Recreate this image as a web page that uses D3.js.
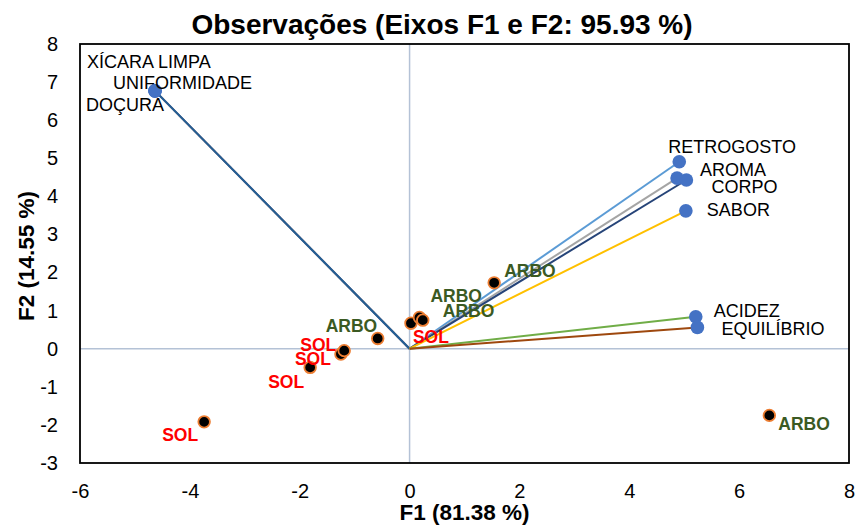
<!DOCTYPE html>
<html><head><meta charset="utf-8">
<script src="https://cdn.jsdelivr.net/npm/d3@7"></script>
<style>body{margin:0;background:#fff}svg{display:block;font-family:Arial,"Liberation Sans",sans-serif}</style>
</head><body><svg id="c" width="857" height="526"></svg>
<script>
// Variables (loadings)
const varNames = ["XÍCARA LIMPA","UNIFORMIDADE","DOÇURA","RETROGOSTO","AROMA","CORPO","SABOR","ACIDEZ","EQUILÍBRIO"];
const varF1 = [-4.635,-4.635,-4.635,4.91,4.87,5.04,5.03,5.21,5.24];
const varF2 = [6.77,6.77,6.77,4.91,4.48,4.43,3.62,0.84,0.56];
const varLineColors = ["#ed7d31","#4472c4","#255e91","#5b9bd5","#a5a5a5","#264478","#ffc000","#70ad47","#9e480e"];
const varLabelOffsets = [[-68,-23],[-42,-2],[-69,20],[-11,-9],[23,-2],[25,13],[21,5],[18,0],[24,8]];
// Observations
const obsLabels = ["SOL","SOL","SOL","SOL","ARBO","SOL","ARBO","ARBO","ARBO","ARBO"];
const obsF1 = [-3.74,-1.81,-1.25,-1.19,-0.58,0.025,0.18,0.24,1.54,6.55];
const obsF2 = [-1.92,-0.49,-0.14,-0.05,0.27,0.67,0.82,0.75,1.73,-1.75];
const obsLabelOffsets = [[-42,19],[-42,21],[-46,11],[-44,0],[-52,-6],[2,20],[11,-15],[20,-3],[10,-6],[9,15]];
const obsColors = {SOL:"#ff0000", ARBO:"#3b5a23"};
// Axes
const xTicks = [-6,-4,-2,0,2,4,6,8];
const yTicks = [-3,-2,-1,0,1,2,3,4,5,6,7,8];
const title = "Observações (Eixos F1 e F2: 95.93 %)";
const xTitle = "F1 (81.38 %)";
const yTitle = "F2 (14.55 %)";

const L=80,T=44,R=849,B=463;
const svg = d3.select("#c");
const x = d3.scaleLinear().domain([-6,8]).range([L,R]);
const y = d3.scaleLinear().domain([-3,8]).range([B,T]);
const fmt = d => String(d);

// zero axes
svg.append("line").attr("x1",x(0)).attr("x2",x(0)).attr("y1",T).attr("y2",B).attr("stroke","#b4c2d6").attr("stroke-width",1.5);
svg.append("line").attr("x1",L).attr("x2",R).attr("y1",y(0)).attr("y2",y(0)).attr("stroke","#b4c2d6").attr("stroke-width",1.5);

// axes ticks labels
const xa = svg.append("g").attr("transform",`translate(0,${B})`).call(d3.axisBottom(x).tickValues(xTicks).tickSize(0).tickPadding(21).tickFormat(fmt));
xa.select(".domain").remove();
xa.selectAll("text").attr("font-size",20).attr("fill","#000").attr("font-family","Arial, 'Liberation Sans', sans-serif");
const ya = svg.append("g").attr("transform",`translate(${L},0)`).call(d3.axisLeft(y).tickValues(yTicks).tickSize(0).tickPadding(22).tickFormat(fmt));
ya.select(".domain").remove();
ya.selectAll("text").attr("font-size",20).attr("fill","#000").attr("font-family","Arial, 'Liberation Sans', sans-serif");

// plot frame
svg.append("rect").attr("x",L).attr("y",T).attr("width",R-L).attr("height",B-T).attr("fill","none").attr("stroke","#000").attr("stroke-width",1.8);

// vector lines
varNames.forEach((n,i)=>{
  svg.append("line").attr("x1",x(0)).attr("y1",y(0)).attr("x2",x(varF1[i])).attr("y2",y(varF2[i]))
    .attr("stroke",varLineColors[i]).attr("stroke-width",2);
});
// variable points
svg.selectAll("circle.v").data(varNames).join("circle").attr("class","v")
  .attr("cx",(d,i)=>x(varF1[i])).attr("cy",(d,i)=>y(varF2[i])).attr("r",6.8).attr("fill","#4472c4");
svg.selectAll("text.v").data(varNames).join("text").attr("class","v")
  .attr("x",(d,i)=>x(varF1[i])+varLabelOffsets[i][0]).attr("y",(d,i)=>y(varF2[i])+varLabelOffsets[i][1])
  .attr("font-size",18).attr("fill","#000").text(d=>d);

// observation points
svg.selectAll("circle.o").data(obsLabels).join("circle").attr("class","o")
  .attr("cx",(d,i)=>x(obsF1[i])).attr("cy",(d,i)=>y(obsF2[i])).attr("r",5.8)
  .attr("fill","#000").attr("stroke","#ed7d31").attr("stroke-width",1.8);
svg.selectAll("text.o").data(obsLabels).join("text").attr("class","o")
  .attr("x",(d,i)=>x(obsF1[i])+obsLabelOffsets[i][0]).attr("y",(d,i)=>y(obsF2[i])+obsLabelOffsets[i][1])
  .attr("font-size",17.5).attr("font-weight","bold").attr("fill",d=>obsColors[d]).text(d=>d);

// titles
svg.append("text").attr("x",442).attr("y",34).attr("text-anchor","middle").attr("font-size",28).attr("font-weight","bold").text(title);
svg.append("text").attr("x",(L+R)/2).attr("y",520).attr("text-anchor","middle").attr("font-size",22.5).attr("font-weight","bold").text(xTitle);
svg.append("text").attr("transform",`translate(34,${256}) rotate(-90)`).attr("text-anchor","middle").attr("font-size",22.5).attr("font-weight","bold").text(yTitle);
</script></body></html>
